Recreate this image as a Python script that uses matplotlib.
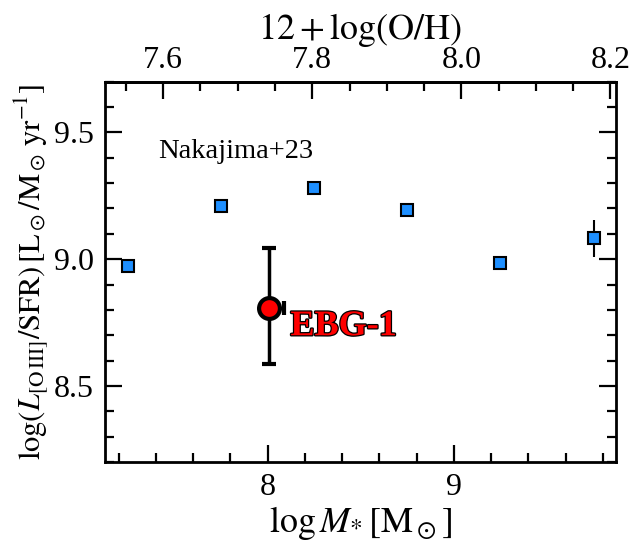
import matplotlib
matplotlib.use('Agg')
from matplotlib import pyplot as plt
from matplotlib.ticker import MultipleLocator
import matplotlib.patheffects as pe

# Nakajima+23 bins
naka_mass = [7.25, 7.75, 8.25, 8.75, 9.25, 9.75]
naka_ratio = [8.974, 9.209, 9.281, 9.193, 8.984, 9.082]
naka_err = [0.0, 0.0, 0.0, 0.0, 0.0, 0.073]

# EBG-1
ebg_mass = [8.01]
ebg_ratio = [8.809]
ebg_xerr = [[0.04], [0.08]]
ebg_yerr = [[0.224], [0.234]]


def m2oh(m):
    return 0.25 * m + 5.74


def oh2m(oh):
    return (oh - 5.74) / 0.25


plt.rcParams['font.family'] = ['Liberation Serif', 'DejaVu Serif']
plt.rcParams['mathtext.fontset'] = 'stix'

fig = plt.figure(figsize=(6.32, 5.42), dpi=100)
ax = fig.add_axes([0.166, 0.1476, 0.808, 0.7017])

ax.errorbar(naka_mass, naka_ratio, yerr=naka_err, fmt='s', color='black',
            mfc='#1e8fff', mec='black', ms=9, mew=1.5, elinewidth=1.5,
            capsize=0, zorder=3)
ax.errorbar(ebg_mass, ebg_ratio, xerr=ebg_xerr, yerr=ebg_yerr, fmt='o',
            color='black', mfc='red', mec='black', ms=15, mew=3,
            elinewidth=2.5, capsize=5, capthick=2.5, zorder=4)

ax.text(7.411, 9.40, 'Nakajima+23', fontsize=20.5, ha='left', va='baseline')
ax.text(8.123, 8.70, 'EBG-1', fontsize=26, fontweight='bold', color='red',
        ha='left', va='baseline',
        path_effects=[pe.withStroke(linewidth=1.8, foreground='black')])

ax.set_xlim(7.127, 9.868)
ax.set_ylim(8.2, 9.7)
ax.xaxis.set_major_locator(MultipleLocator(1))
ax.xaxis.set_minor_locator(MultipleLocator(0.2))
ax.yaxis.set_major_locator(MultipleLocator(0.5))
ax.yaxis.set_minor_locator(MultipleLocator(0.1))
ax.tick_params(which='both', direction='in', top=False, right=True,
               width=1.6, labelsize=23, pad=8)
ax.tick_params(which='major', length=12)
ax.tick_params(which='minor', length=6.5)
for s in ax.spines.values():
    s.set_linewidth(2)

ax.set_xlabel(r'$\log M_{*}\,[{\rm M_\odot}]$', fontsize=26, labelpad=1)
ax.set_ylabel(r'$\log(L_{\rm [O\,III]}/{\rm SFR})\,[{\rm L_\odot/M_\odot\,yr^{-1}}]$',
              fontsize=22, labelpad=2)

sec = ax.secondary_xaxis('top', functions=(m2oh, oh2m))
sec.xaxis.set_major_locator(MultipleLocator(0.2))
sec.xaxis.set_minor_locator(MultipleLocator(0.05))
sec.tick_params(which='both', direction='in', width=1.6, labelsize=23, pad=5)
sec.tick_params(which='major', length=12)
sec.tick_params(which='minor', length=6.5)
sec.set_xlabel(r'$12+\log({\rm O/H})$', fontsize=26, labelpad=5)
sec.spines['top'].set_linewidth(2)

fig.savefig('out.png', dpi=100)
